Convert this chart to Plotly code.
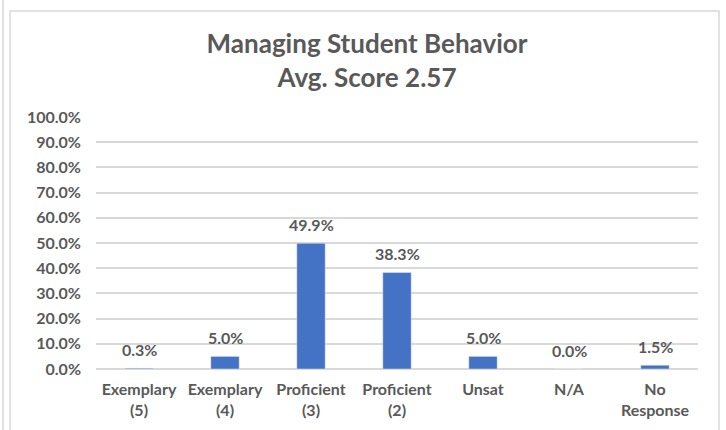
import plotly.graph_objects as go

categories = ["Exemplary<br>(5)", "Exemplary<br>(4)", "Proficient<br>(3)", "Proficient<br>(2)",
              "Unsat", "N/A", "No<br>Response"]
values = [0.003, 0.050, 0.499, 0.383, 0.050, 0.000, 0.015]
labels = ["0.3%", "5.0%", "49.9%", "38.3%", "5.0%", "0.0%", "1.5%"]
y_ticks = [i / 10 for i in range(11)]

W, H = 726, 430
ML, MR, MT, MB = 96, 28, 117, 61
PW, PH = W - ML - MR, H - MT - MB

def px(x):
    return (x - ML) / PW

def py(y):
    return (H - MB - y) / PH

TXT = "#595959"
FONT = "Lato"

fig = go.Figure(go.Bar(x=categories, y=values, marker_color="#4472C4", width=0.33,
                       hoverinfo="skip"))

for c, v, t in zip(categories, values, labels):
    fig.add_annotation(x=c, y=v, text=t, showarrow=False, yanchor="bottom", yshift=7,
                       font=dict(family=FONT, size=16, color=TXT, weight="bold"))

shapes = [
    dict(type="rect", xref="paper", yref="paper", x0=px(10), x1=px(719), y0=py(11), y1=py(440),
         line=dict(color="#D9D9D9", width=1.5), layer="below"),
    dict(type="line", xref="paper", yref="paper", x0=px(3), x1=px(3), y0=py(0), y1=py(440),
         line=dict(color="#D9D9D9", width=1.5), layer="below"),
]

fig.update_layout(
    width=W, height=H,
    margin=dict(l=ML, r=MR, t=MT, b=MB),
    paper_bgcolor="white", plot_bgcolor="white",
    shapes=shapes,
    showlegend=False,
    title=dict(text="Managing Student Behavior<br>Avg. Score 2.57", x=367 / W, xanchor="center",
               xref="container", yref="container", y=1 - 53 / H, yanchor="top",
               font=dict(family=FONT, size=26, color=TXT, weight="bold")),
    xaxis=dict(showgrid=False, showline=False, ticks="", zeroline=False, ticklabelstandoff=9,
               tickfont=dict(family=FONT, size=16, color=TXT, weight="bold"), fixedrange=True),
    yaxis=dict(range=[0, 1], tickvals=y_ticks, tickformat=".1%", showgrid=True,
               gridcolor="#D9D9D9", gridwidth=1.5, zeroline=True, zerolinecolor="#D9D9D9",
               zerolinewidth=1.5, showline=False, ticks="", ticklen=0, ticklabelstandoff=14,
               tickfont=dict(family=FONT, size=16, color=TXT, weight="bold"), fixedrange=True),
)

fig.write_html("out.html", config={"displayModeBar": False},
               post_script="document.body.style.margin='0';")
